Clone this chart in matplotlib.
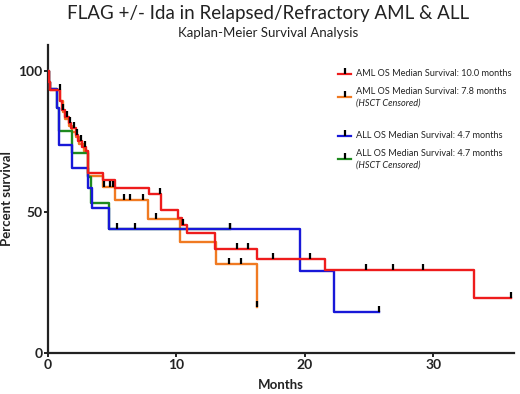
import matplotlib
matplotlib.use("Agg")
import matplotlib.pyplot as plt
from matplotlib.lines import Line2D

plt.rcParams['font.family'] = ['Lato', 'DejaVu Sans']

# step curves: (time in months, percent survival after the step)
aml_t = [0, 0.05, 0.15, 0.93, 1.1, 1.3, 1.6, 1.8, 2.15, 2.35, 2.67, 2.95, 3.1, 4.3, 5.2, 7.9, 8.8, 10.1, 10.4, 10.8, 13.0, 16.3, 21.6, 33.2]
aml_s = [100, 96, 93.3, 89.5, 86, 83.8, 81.4, 79.7, 77.3, 75, 73.2, 71.5, 63.7, 61.3, 58.5, 56.3, 50.7, 47.7, 45.5, 42.5, 37, 33.5, 29.3, 19.6]
aml_end = 36.1
aml_cens = [0.9, 1.2, 1.45, 1.7, 2.0, 2.25, 2.55, 2.85, 8.75, 10.5, 14.7, 15.6, 17.5, 20.4, 24.8, 26.9, 29.2, 36.1]

amlc_t = [0, 0.05, 0.15, 0.95, 1.15, 1.35, 1.65, 1.9, 2.2, 2.45, 2.8, 3.1, 4.3, 5.2, 7.8, 10.3, 13.05]
amlc_s = [100, 96, 93.3, 89.2, 85.5, 83, 80.5, 78.5, 76.5, 74, 71.5, 62.6, 58.7, 54.3, 47.4, 39.5, 31.4]
amlc_end = 16.3
amlc_cens = [4.4, 4.8, 5.1, 5.9, 6.4, 7.4, 8.45, 14.1, 15.0, 16.3]
amlc_end_s = 16.4

all_t = [0, 0.05, 0.15, 0.67, 0.85, 1.85, 3.1, 3.4, 4.75, 19.6, 22.3]
all_s = [100, 96, 93.6, 87, 73.6, 65.7, 58.4, 51.3, 44, 29.2, 14.4]
all_end = 25.8
all_cens = [5.4, 6.8, 14.2, 25.8]

allc_t = [0, 0.05, 0.15, 0.67, 0.85, 1.85, 3.1, 3.35, 4.75]
allc_s = [100, 96, 93.6, 87, 78.8, 70.8, 62.3, 53.2, 44]
allc_end = 14.2
allc_cens = [14.2]

legend_labels = [
    ("AML OS Median Survival: 10.0 months", None),
    ("AML OS Median Survival: 7.8 months", "(HSCT Censored)"),
    ("ALL OS Median Survival: 4.7 months", None),
    ("ALL OS Median Survival: 4.7 months", "(HSCT Censored)"),
]

RED = '#ee1c1c'
ORANGE = '#f07a22'
BLUE = '#1818d8'
GREEN = '#1f8a1f'
colors = [RED, ORANGE, BLUE, GREEN]


def surv_at(ts, ss, x):
    v = ss[0]
    for t, s in zip(ts, ss):
        if t <= x:
            v = s
    return v


fig = plt.figure(figsize=(5.2, 3.94), dpi=100)
ax = fig.add_axes([48 / 520, 41 / 394, 466 / 520, 308 / 394])

curves = [
    (amlc_t, amlc_s, amlc_end, amlc_cens, ORANGE, amlc_end_s),
    (allc_t, allc_s, allc_end, allc_cens, GREEN, None),
    (all_t, all_s, all_end, all_cens, BLUE, None),
    (aml_t, aml_s, aml_end, aml_cens, RED, None),
]
for ts, ss, end, cens, col, end_s in curves:
    xs = list(ts) + [end]
    ys = list(ss) + [end_s if end_s is not None else ss[-1]]
    ax.step(xs, ys, where='post', color=col, lw=1.7, zorder=3)
    cy = []
    for c in cens:
        if end_s is not None and c >= end:
            cy.append(end_s)
        else:
            cy.append(surv_at(ts, ss, c))
    ax.plot(cens, cy, ls='none', marker=2, markersize=4, markeredgewidth=1.6,
            color='black', zorder=4)

ax.set_xlim(0, 36.3)
ax.set_ylim(0, 109.2)
ax.set_xticks([0, 10, 20, 30])
ax.set_yticks([0, 50, 100])
for side in ['top', 'right']:
    ax.spines[side].set_visible(False)
for side in ['left', 'bottom']:
    ax.spines[side].set_linewidth(1.6)
    ax.spines[side].set_color('#222222')
ax.tick_params(length=3, width=1.4, colors='#222222', labelsize=10, pad=1)
for lab in ax.get_xticklabels() + ax.get_yticklabels():
    lab.set_fontweight('bold')
ax.set_xlabel('Months', fontsize=9.5, fontweight='bold', labelpad=6, color='#222222')
ax.set_ylabel('Percent survival', fontsize=9.5, fontweight='bold', labelpad=4, color='#222222')

fig.text(268 / 520, 1 - 13 / 394, 'FLAG +/- Ida in Relapsed/Refractory AML & ALL',
         ha='center', va='center', fontsize=13.5, color='#222222')
fig.text(268 / 520, 1 - 33 / 394, 'Kaplan-Meier Survival Analysis',
         ha='center', va='center', fontsize=9.5, color='#222222')

# legend drawn by hand
leg_y = [74, 91, 136, 153]
for (main, sub), col, py in zip(legend_labels, colors, leg_y):
    hy = 1 - (py + (6 if sub else 0)) / 394
    fig.add_artist(Line2D([338 / 520, 351 / 520], [hy, hy], color=col, lw=1.6,
                          transform=fig.transFigure))
    fig.add_artist(Line2D([344.5 / 520], [hy], marker=2, markersize=4,
                          markeredgewidth=1.6, color='black',
                          transform=fig.transFigure))
    fig.text(356 / 520, 1 - py / 394, main, ha='left', va='center',
             fontsize=6.6, color='#222222')
    if sub:
        fig.text(356 / 520, 1 - (py + 12) / 394, sub, ha='left', va='center',
                 fontsize=6.6, style='italic', color='#222222')

fig.savefig('out.png', dpi=100)
